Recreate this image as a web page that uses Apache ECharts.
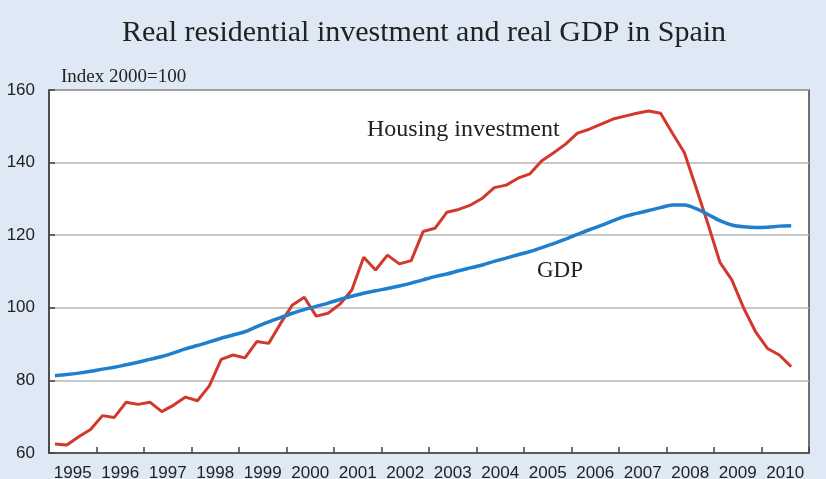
<!DOCTYPE html>
<html>
<head>
<meta charset="utf-8">
<title>Real residential investment and real GDP in Spain</title>
<script src="https://cdn.jsdelivr.net/npm/echarts@6/dist/echarts.min.js"></script>
<style>
html, body { margin: 0; padding: 0; background: #dfe9f5; }
#chart { width: 826px; height: 479px; }
</style>
</head>
<body>
<div id="chart"></div>
<script>
// years on the axis, quarterly data 1995Q1 .. 2010Q3
var years = ['1995','1996','1997','1998','1999','2000','2001','2002','2003','2004','2005','2006','2007','2008','2009','2010'];

// housing investment, index 2000=100
var housing = [
  62.5, 62.2, 64.5, 66.5,
  70.3, 69.8, 74.0, 73.4,
  74.0, 71.4, 73.2, 75.4,
  74.4, 78.5, 85.8, 87.0,
  86.2, 90.7, 90.2, 95.7,
  100.8, 102.9, 97.7, 98.5,
  101.0, 104.9, 113.9, 110.4,
  114.5, 112.1, 113.0, 121.0,
  121.9, 126.3, 127.1, 128.3,
  130.2, 133.1, 133.8, 135.7,
  136.9, 140.5, 142.7, 145.1,
  148.1, 149.2, 150.6, 152.0,
  152.8, 153.6, 154.2, 153.6,
  148.1, 142.8, 133.0, 123.0,
  112.5, 107.7, 99.9, 93.4,
  88.8, 87.0, 83.8
];

// real GDP, index 2000=100
var gdp = [
  81.3, 81.6, 82.0, 82.5,
  83.1, 83.6, 84.3, 85.0,
  85.8, 86.6, 87.6, 88.7,
  89.6, 90.6, 91.6, 92.5,
  93.4, 94.8, 96.1, 97.3,
  98.5, 99.5, 100.4, 101.3,
  102.3, 103.2, 104.0, 104.7,
  105.3, 106.0, 106.8, 107.7,
  108.6, 109.3, 110.2, 111.0,
  111.8, 112.8, 113.7, 114.6,
  115.5, 116.6, 117.7, 118.9,
  120.2, 121.5, 122.7, 124.0,
  125.2, 126.0, 126.8, 127.6,
  128.3, 128.3, 127.3, 125.7,
  124.0, 122.8, 122.3, 122.1,
  122.2, 122.5, 122.6
];

var quarters = [];
years.forEach(function (y) {
  for (var q = 1; q <= 4; q++) quarters.push(y + 'Q' + q);
});

var chart = echarts.init(document.getElementById('chart'));
var serif = 'Liberation Serif, Times New Roman, serif';
var sans = 'Liberation Sans, Arial, sans-serif';

chart.setOption({
  backgroundColor: '#dfe9f5',
  animation: false,
  title: {
    text: 'Real residential investment and real GDP in Spain',
    left: 117,
    top: 13,
    textStyle: { fontFamily: serif, fontSize: 30, fontWeight: 'normal', color: '#222' }
  },
  grid: {
    left: 49, right: 17, top: 90, bottom: 26,
    outerBoundsMode: 'none',
    containLabel: false,
    show: true,
    backgroundColor: '#fff',
    borderColor: '#444',
    borderWidth: 1.5
  },
  xAxis: [
    {
      type: 'category',
      data: quarters,
      boundaryGap: true,
      axisLine: { show: false },
      axisTick: { show: false },
      axisLabel: { show: false }
    },
    {
      type: 'category',
      data: years,
      position: 'bottom',
      boundaryGap: true,
      axisLine: { show: true, lineStyle: { color: '#444', width: 1.5 } },
      axisTick: { show: true, inside: true, length: 6, lineStyle: { color: '#444', width: 1.5 } },
      axisLabel: { fontFamily: sans, fontSize: 17, color: '#222', margin: 12, interval: 0 }
    }
  ],
  yAxis: {
    type: 'value',
    min: 60, max: 160, interval: 20,
    name: 'Index 2000=100',
    nameLocation: 'end',
    nameGap: 3,
    nameTextStyle: { fontFamily: serif, fontSize: 19, color: '#222', align: 'left', padding: [0, 0, 0, 12] },
    axisLine: { show: true, lineStyle: { color: '#444', width: 1.5 } },
    axisTick: { show: true, inside: true, length: 6, lineStyle: { color: '#444', width: 1.5 } },
    axisLabel: { fontFamily: sans, fontSize: 17, color: '#222', margin: 14 },
    splitLine: { lineStyle: { color: '#b4b4b4', width: 1.5 } }
  },
  series: [
    {
      name: 'Housing investment',
      type: 'line',
      data: housing,
      xAxisIndex: 0,
      symbol: 'none',
      lineStyle: { color: '#d2382b', width: 3 },
      z: 3
    },
    {
      name: 'GDP',
      type: 'line',
      data: gdp,
      xAxisIndex: 0,
      symbol: 'none',
      smooth: 0.3,
      lineStyle: { color: '#1f7fcc', width: 3.5 },
      z: 4
    }
  ],
  graphic: [
    {
      type: 'text',
      left: 367, top: 118,
      style: { text: 'Housing investment', font: '24px ' + serif, fill: '#222' }
    },
    {
      type: 'text',
      left: 537, top: 259,
      style: { text: 'GDP', font: '23px ' + serif, fill: '#222' }
    }
  ]
});
</script>
</body>
</html>
